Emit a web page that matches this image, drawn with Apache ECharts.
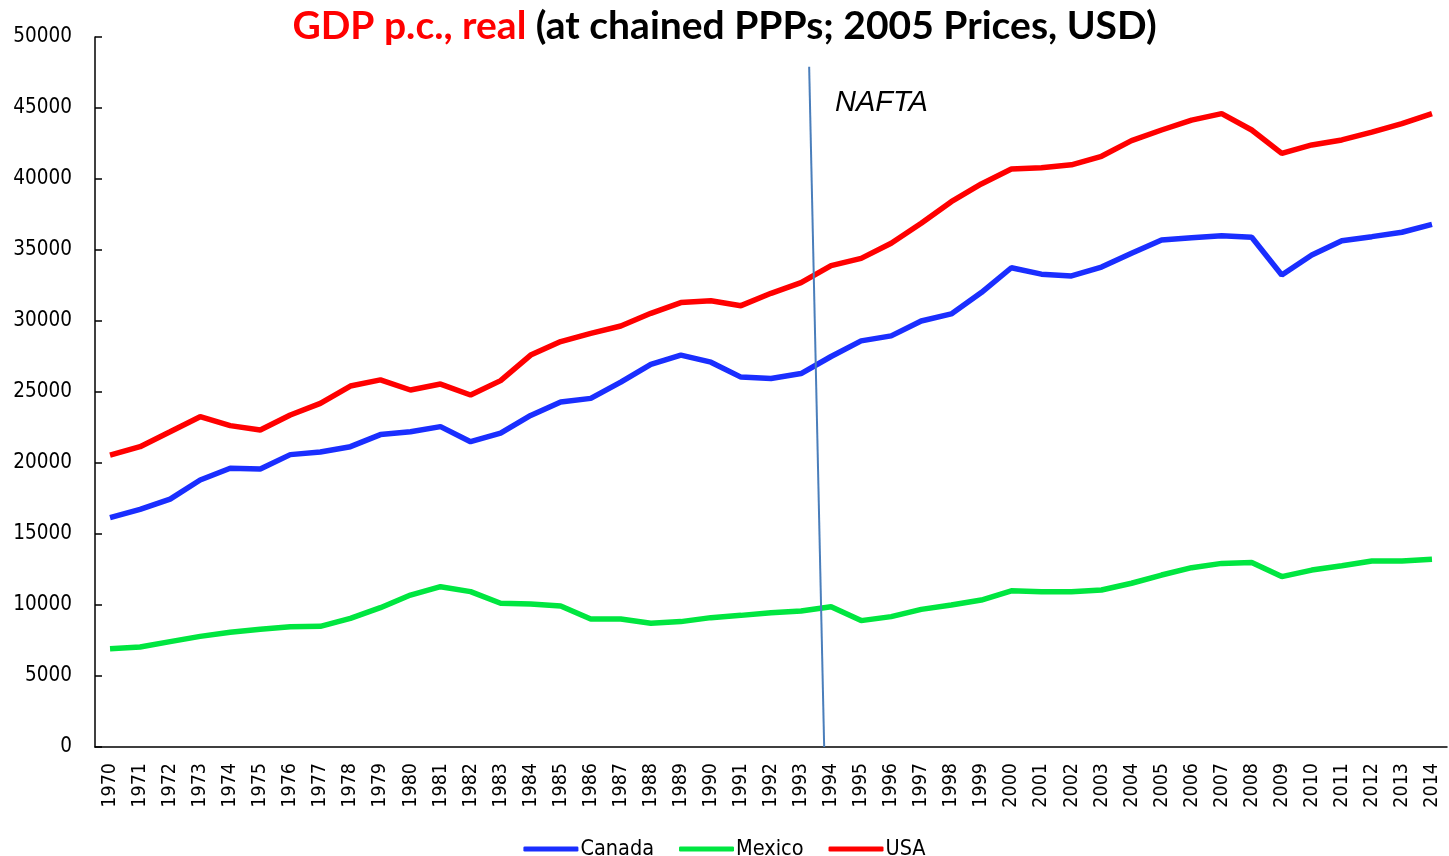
<!DOCTYPE html>
<html>
<head>
<meta charset="utf-8">
<script src="https://cdn.jsdelivr.net/npm/echarts@6/dist/echarts.min.js"></script>
<style>html,body{margin:0;padding:0;background:#fff;}#c{width:1449px;height:856px;}</style>
</head>
<body>
<div id="c"></div>
<script>
const years = [];
for (let y = 1970; y <= 2014; y++) years.push(String(y));

const canada = [16150,16740,17460,18800,19630,19580,20590,20770,21150,22000,22200,22560,21500,22100,23350,24300,24550,25700,26950,27600,27100,26050,25950,26300,27500,28600,28950,30000,30500,32000,33750,33300,33170,33800,34770,35700,35870,36000,35900,33240,34650,35650,35940,36250,36800];
const mexico = [6920,7040,7420,7790,8080,8290,8470,8500,9060,9810,10700,11290,10940,10120,10070,9930,9010,9010,8710,8830,9110,9270,9460,9580,9880,8900,9180,9690,10000,10350,11000,10940,10940,11060,11530,12110,12630,12930,13000,12000,12460,12770,13100,13100,13220];
const usa = [20560,21150,22200,23260,22630,22320,23380,24200,25420,25850,25140,25560,24790,25800,27600,28550,29130,29650,30540,31300,31430,31080,31950,32700,33900,34410,35470,36880,38400,39650,40700,40800,41000,41600,42700,43450,44150,44600,43450,41800,42400,42750,43300,43900,44600];
const yTicks = [0, 50000, 5000]; // min, max, interval
const naftaLine = [[1993.27, 47900], [1993.77, 0]];

const FONT = '"DejaVu Sans Condensed", "DejaVu Sans"';
const chart = echarts.init(document.getElementById('c'));
const lineStyleW = 5.5;
chart.setOption({
  animation: false,
  backgroundColor: '#fff',
  title: {
    text: '{r|GDP p.c., real}{b| (at chained PPPs; 2005 Prices, USD)}',
    left: 'center',
    top: 2,
    textStyle: {
      rich: {
        r: {color: '#ff0000', fontWeight: 'bold', fontSize: 39, fontFamily: 'Lato'},
        b: {color: '#000', fontWeight: 'bold', fontSize: 39, fontFamily: 'Lato'}
      }
    }
  },
  legend: {
    data: ['Canada', 'Mexico', 'USA'],
    left: 'center',
    top: 833,
    icon: 'roundRect',
    itemWidth: 55,
    itemHeight: 5,
    itemGap: 25,
    textStyle: {fontFamily: FONT, fontSize: 21.5, color: '#000', padding: [0, 0, 0, -3]}
  },
  grid: {left: 95, right: 2, top: 37, bottom: 109, containLabel: false},
  xAxis: [{
    type: 'category',
    data: years,
    boundaryGap: true,
    axisLine: {lineStyle: {color: '#000', width: 1.5}},
    axisTick: {inside: true, length: 7, interval: 0, lineStyle: {color: '#000', width: 1.5}},
    axisLabel: {rotate: 90, interval: 0, margin: 16, color: '#000', fontFamily: FONT, fontSize: 19.5}
  }, {
    type: 'value',
    min: 1969.5,
    max: 2014.5,
    show: false
  }],
  yAxis: {
    type: 'value',
    min: yTicks[0],
    max: yTicks[1],
    interval: yTicks[2],
    splitLine: {show: false},
    axisLine: {show: true, lineStyle: {color: '#000', width: 1.5}},
    axisTick: {show: true, inside: true, length: 7, lineStyle: {color: '#000', width: 1.5}},
    axisLabel: {margin: 23, color: '#000', fontFamily: FONT, fontSize: 20.5, formatter: v => String(v)}
  },
  series: [
    {name: 'Canada', type: 'line', data: canada, symbol: 'none', lineStyle: {color: '#1a2eff', width: lineStyleW}, itemStyle: {color: '#1a2eff'}},
    {name: 'Mexico', type: 'line', data: mexico, symbol: 'none', lineStyle: {color: '#00e640', width: lineStyleW}, itemStyle: {color: '#00e640'}},
    {name: 'USA', type: 'line', data: usa, symbol: 'none', lineStyle: {color: '#ff0000', width: lineStyleW}, itemStyle: {color: '#ff0000'}},
    {name: 'NAFTA', type: 'line', xAxisIndex: 1, data: naftaLine, symbol: 'none', lineStyle: {color: '#4a7ebb', width: 2}, z: 5}
  ],
  graphic: [{
    type: 'text',
    left: 835,
    top: 88,
    style: {text: 'NAFTA', font: 'italic 29px "Liberation Sans", Arial', fill: '#000'}
  }]
});
</script>
</body>
</html>
